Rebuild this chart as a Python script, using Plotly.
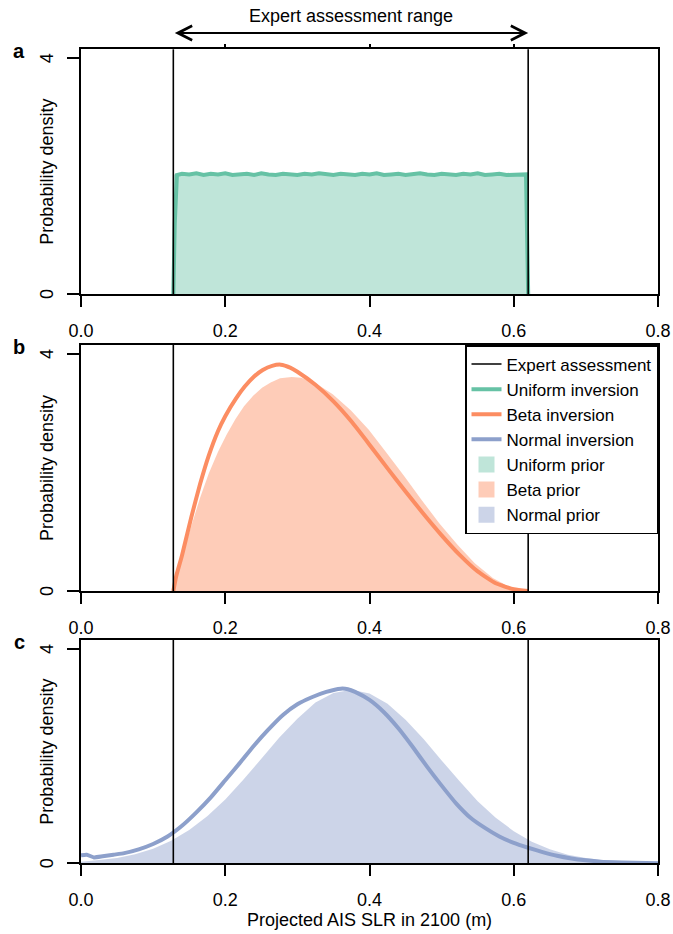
import plotly.graph_objects as go

# ---------------- data ----------------
x_tick_vals = [0.0, 0.2, 0.4, 0.6, 0.8]
x_tick_text = ["0.0", "0.2", "0.4", "0.6", "0.8"]
top_tick_vals = [0.2, 0.4, 0.6]
y_tick_vals = [0, 4]
y_tick_text = ["0", "4"]
expert_range = [0.128, 0.620]
panel_labels = ["a", "b", "c"]

# Uniform prior (flat density over expert range)
unif_prior_x = [0.128, 0.620]
unif_prior_y = [2.03, 2.03]

# Uniform inversion (posterior density, slightly noisy)
unif_inv_x = [0.128, 0.130, 0.133, 0.140, 0.150, 0.160, 0.170, 0.180, 0.190, 0.200,
              0.210, 0.220, 0.230, 0.240, 0.250, 0.260, 0.270, 0.280, 0.290, 0.300,
              0.310, 0.320, 0.330, 0.340, 0.350, 0.360, 0.370, 0.380, 0.390, 0.400,
              0.410, 0.420, 0.430, 0.440, 0.450, 0.460, 0.470, 0.480, 0.490, 0.500,
              0.510, 0.520, 0.530, 0.540, 0.550, 0.560, 0.570, 0.580, 0.590, 0.600,
              0.610, 0.617, 0.620]
unif_inv_y = [0.00, 1.20, 2.02, 2.04, 2.03, 2.05, 2.02, 2.04, 2.03, 2.05,
              2.02, 2.03, 2.04, 2.02, 2.05, 2.03, 2.02, 2.04, 2.03, 2.02,
              2.04, 2.03, 2.05, 2.03, 2.02, 2.04, 2.03, 2.02, 2.04, 2.03,
              2.05, 2.02, 2.03, 2.04, 2.02, 2.03, 2.05, 2.03, 2.02, 2.04,
              2.03, 2.02, 2.04, 2.03, 2.05, 2.02, 2.03, 2.04, 2.02, 2.03,
              2.04, 2.03, 0.00]

# Beta prior
beta_prior_x = [0.128, 0.140, 0.153, 0.165, 0.177, 0.190, 0.202, 0.214, 0.226, 0.239,
                0.251, 0.263, 0.276, 0.292, 0.305, 0.325, 0.349, 0.374, 0.399, 0.423,
                0.448, 0.472, 0.497, 0.522, 0.546, 0.571, 0.595, 0.610, 0.620]
beta_prior_y = [0.00, 0.57, 1.10, 1.57, 1.98, 2.35, 2.64, 2.90, 3.12, 3.30,
                3.43, 3.52, 3.59, 3.61, 3.60, 3.51, 3.32, 3.05, 2.72, 2.34,
                1.94, 1.54, 1.14, 0.78, 0.47, 0.22, 0.06, 0.01, 0.00]

# Beta inversion
beta_inv_x = [0.128, 0.132, 0.140, 0.153, 0.165, 0.177, 0.190, 0.200, 0.215, 0.227,
              0.240, 0.252, 0.265, 0.277, 0.290, 0.300, 0.325, 0.350, 0.375, 0.400,
              0.425, 0.450, 0.475, 0.500, 0.525, 0.550, 0.575, 0.600, 0.620]
beta_inv_y = [0.00, 0.25, 0.60, 1.25, 1.80, 2.28, 2.70, 2.95, 3.25, 3.45,
              3.62, 3.73, 3.80, 3.82, 3.77, 3.70, 3.48, 3.20, 2.86, 2.47,
              2.07, 1.68, 1.30, 0.94, 0.61, 0.33, 0.13, 0.03, 0.00]

# Normal prior
norm_prior_x = [0.000, 0.025, 0.050, 0.075, 0.100, 0.125, 0.150, 0.175, 0.200, 0.225,
                0.250, 0.275, 0.300, 0.325, 0.350, 0.375, 0.400, 0.425, 0.450, 0.475,
                0.500, 0.525, 0.550, 0.575, 0.600, 0.625, 0.650, 0.675, 0.700, 0.725,
                0.750, 0.775, 0.800]
norm_prior_y = [0.03, 0.06, 0.10, 0.17, 0.27, 0.42, 0.62, 0.88, 1.19, 1.56,
                1.95, 2.35, 2.70, 3.00, 3.18, 3.24, 3.17, 2.98, 2.68, 2.32,
                1.92, 1.53, 1.16, 0.85, 0.60, 0.40, 0.26, 0.16, 0.10, 0.055,
                0.03, 0.016, 0.007]

# Normal inversion
norm_inv_x = [0.000, 0.008, 0.018, 0.030, 0.045, 0.060, 0.080, 0.100, 0.120, 0.140,
              0.160, 0.180, 0.200, 0.220, 0.240, 0.260, 0.280, 0.300, 0.320, 0.340,
              0.360, 0.370, 0.380, 0.400, 0.420, 0.440, 0.460, 0.480, 0.500, 0.520,
              0.540, 0.560, 0.580, 0.600, 0.620, 0.640, 0.660, 0.680, 0.700, 0.720,
              0.750, 0.800]
norm_inv_y = [0.15, 0.16, 0.11, 0.13, 0.16, 0.19, 0.26, 0.36, 0.50, 0.70,
              0.95, 1.23, 1.55, 1.87, 2.20, 2.50, 2.77, 2.97, 3.10, 3.20,
              3.26, 3.25, 3.20, 3.05, 2.82, 2.52, 2.17, 1.80, 1.45, 1.12,
              0.85, 0.66, 0.50, 0.38, 0.29, 0.21, 0.14, 0.09, 0.055, 0.03,
              0.015, 0.00]

# ---------------- style ----------------
FONT = "Liberation Sans, Arial, sans-serif"
green, orange, blue = "#66c2a5", "#fc8d62", "#8da0cb"
green_f, orange_f, blue_f = "rgba(102,194,165,0.42)", "rgba(252,141,98,0.45)", "rgba(141,160,203,0.45)"

W, H = 673, 934
x_dom = [81 / W, 658 / W]
y_doms = [[1 - 294 / H, 1 - 49.3 / H],
          [1 - 591 / H, 1 - 345 / H],
          [1 - 863.3 / H, 1 - 640 / H]]
y_ranges = [[0, 4.153], [0, 4.152], [0, 4.168]]

fig = go.Figure()

def ax_names(i):
    s = "" if i == 0 else str(i + 1)
    return "x" + s, "y" + s

xa, ya = ax_names(0)
xb, yb = ax_names(1)
xc, yc = ax_names(2)

# prior fills
fig.add_trace(go.Scatter(x=unif_prior_x, y=unif_prior_y, fill="tozeroy", mode="none",
                         fillcolor=green_f, showlegend=False, xaxis=xa, yaxis=ya))
fig.add_trace(go.Scatter(x=beta_prior_x, y=beta_prior_y, fill="tozeroy", mode="none",
                         fillcolor=orange_f, showlegend=False, xaxis=xb, yaxis=yb))
fig.add_trace(go.Scatter(x=norm_prior_x, y=norm_prior_y, fill="tozeroy", mode="none",
                         fillcolor=blue_f, showlegend=False, xaxis=xc, yaxis=yc))

# Expert assessment vertical lines
for i in range(3):
    xn, yn = ax_names(i)
    for xv in expert_range:
        fig.add_shape(type="line", xref=xn, yref=yn + " domain", x0=xv, x1=xv, y0=0, y1=1,
                      line=dict(color="black", width=1.6), layer="above")

# inversion lines
fig.add_trace(go.Scatter(x=unif_inv_x, y=unif_inv_y, mode="lines",
                         line=dict(color=green, width=4), showlegend=False, xaxis=xa, yaxis=ya))
fig.add_trace(go.Scatter(x=beta_inv_x, y=beta_inv_y, mode="lines",
                         line=dict(color=orange, width=4, shape="spline", smoothing=0.5),
                         showlegend=False, xaxis=xb, yaxis=yb))
fig.add_trace(go.Scatter(x=norm_inv_x, y=norm_inv_y, mode="lines",
                         line=dict(color=blue, width=4, shape="spline", smoothing=0.5),
                         showlegend=False, xaxis=xc, yaxis=yc))

# dummy trace for the top-tick axis of panel a
fig.add_trace(go.Scatter(x=[None], y=[None], mode="lines", showlegend=False,
                         xaxis="x4", yaxis=ya, hoverinfo="skip"))

# Legend proxies
legend_items = [("Expert assessment", "line", "black", 1.6),
                ("Uniform inversion", "line", green, 4),
                ("Beta inversion", "line", orange, 4),
                ("Normal inversion", "line", blue, 4),
                ("Uniform prior", "square", green_f, None),
                ("Beta prior", "square", orange_f, None),
                ("Normal prior", "square", blue_f, None)]
for name, kind, col, w in legend_items:
    if kind == "line":
        fig.add_trace(go.Scatter(x=[None], y=[None], mode="lines", name=name,
                                 line=dict(color=col, width=w), xaxis=xb, yaxis=yb))
    else:
        fig.add_trace(go.Scatter(x=[None], y=[None], mode="markers", name=name,
                                 marker=dict(symbol="square", size=16, color=col,
                                             line=dict(width=0)),
                                 xaxis=xb, yaxis=yb))

layout = dict(
    width=W, height=H, margin=dict(l=0, r=0, t=0, b=0, pad=0, autoexpand=False),
    paper_bgcolor="white", plot_bgcolor="white",
    font=dict(family=FONT, size=18, color="black"),
    showlegend=True,
    legend=dict(x=658 / W, xanchor="right", y=1 - 345 / H, yanchor="top",
                bgcolor="white", bordercolor="black", borderwidth=1.5,
                font=dict(size=17), itemwidth=30, tracegroupgap=0,
                traceorder="normal"),
)
for i in range(3):
    s = "" if i == 0 else str(i + 1)
    layout["xaxis" + s] = dict(domain=x_dom, anchor="y" + s, range=[0, 0.8],
                               tickvals=x_tick_vals, ticktext=x_tick_text,
                               ticks="outside", ticklen=11, tickwidth=2, tickcolor="black",
                               showline=True, linewidth=2, linecolor="black", mirror=True,
                               showgrid=False, zeroline=False, fixedrange=True, automargin=False,
                               ticklabelstandoff=8, tickfont=dict(size=18))
    layout["yaxis" + s] = dict(domain=y_doms[i], anchor="x" + s, range=y_ranges[i],
                               tickvals=y_tick_vals, showticklabels=False,
                               ticks="outside", ticklen=12, tickwidth=2, tickcolor="black",
                               showline=True, linewidth=2, linecolor="black", mirror=True,
                               showgrid=False, zeroline=False, fixedrange=True, automargin=False)
layout["xaxis4"] = dict(overlaying="x", anchor="y", side="top", range=[0, 0.8],
                        tickvals=top_tick_vals, ticks="outside", ticklen=4, tickwidth=2,
                        tickcolor="black", showticklabels=False, showline=False,
                        showgrid=False, zeroline=False, fixedrange=True, automargin=False)
fig.update_layout(**layout)

annotations = []
for i in range(3):
    xn, yn = ax_names(i)
    yc_ = (y_doms[i][0] + y_doms[i][1]) / 2
    annotations.append(dict(text="Probability density", textangle=-90, xref="paper", yref="paper",
                            x=47 / W, y=yc_, xanchor="center", yanchor="middle",
                            showarrow=False, font=dict(size=18)))
    annotations.append(dict(text="<b>" + panel_labels[i] + "</b>", xref="paper", yref="paper",
                            x=19 / W, y=y_doms[i][1] - 2 / H, xanchor="center", yanchor="middle",
                            showarrow=False, font=dict(size=20)))
    # y tick labels (rotated, parallel to the axis)
    for tv, tt in zip(y_tick_vals, y_tick_text):
        annotations.append(dict(text=tt, textangle=-90, xref="paper", yref=yn,
                                x=47 / W, y=tv, xanchor="center", yanchor="middle",
                                showarrow=False, font=dict(size=18)))
annotations.append(dict(text="Projected AIS SLR in 2100 (m)", xref="paper", yref="paper",
                        x=(x_dom[0] + x_dom[1]) / 2, y=1 - 920 / H, xanchor="center",
                        yanchor="middle", showarrow=False, font=dict(size=18)))
annotations.append(dict(text="", x=expert_range[1], xref="x", y=1 - 33 / H, yref="paper",
                        ax=expert_range[0], axref="x", ay=0, ayref="pixel",
                        showarrow=True, arrowhead=5, startarrowhead=5, arrowside="end+start",
                        arrowsize=1.4, startarrowsize=1.4, arrowwidth=2, arrowcolor="black",
                        standoff=0, startstandoff=0))
annotations.append(dict(text="Expert assessment range", x=(expert_range[0] + expert_range[1]) / 2,
                        xref="x", y=1 - 16 / H, yref="paper", xanchor="center", yanchor="middle",
                        showarrow=False, font=dict(size=18)))
fig.update_layout(annotations=annotations)

fig.write_html("out.html")
